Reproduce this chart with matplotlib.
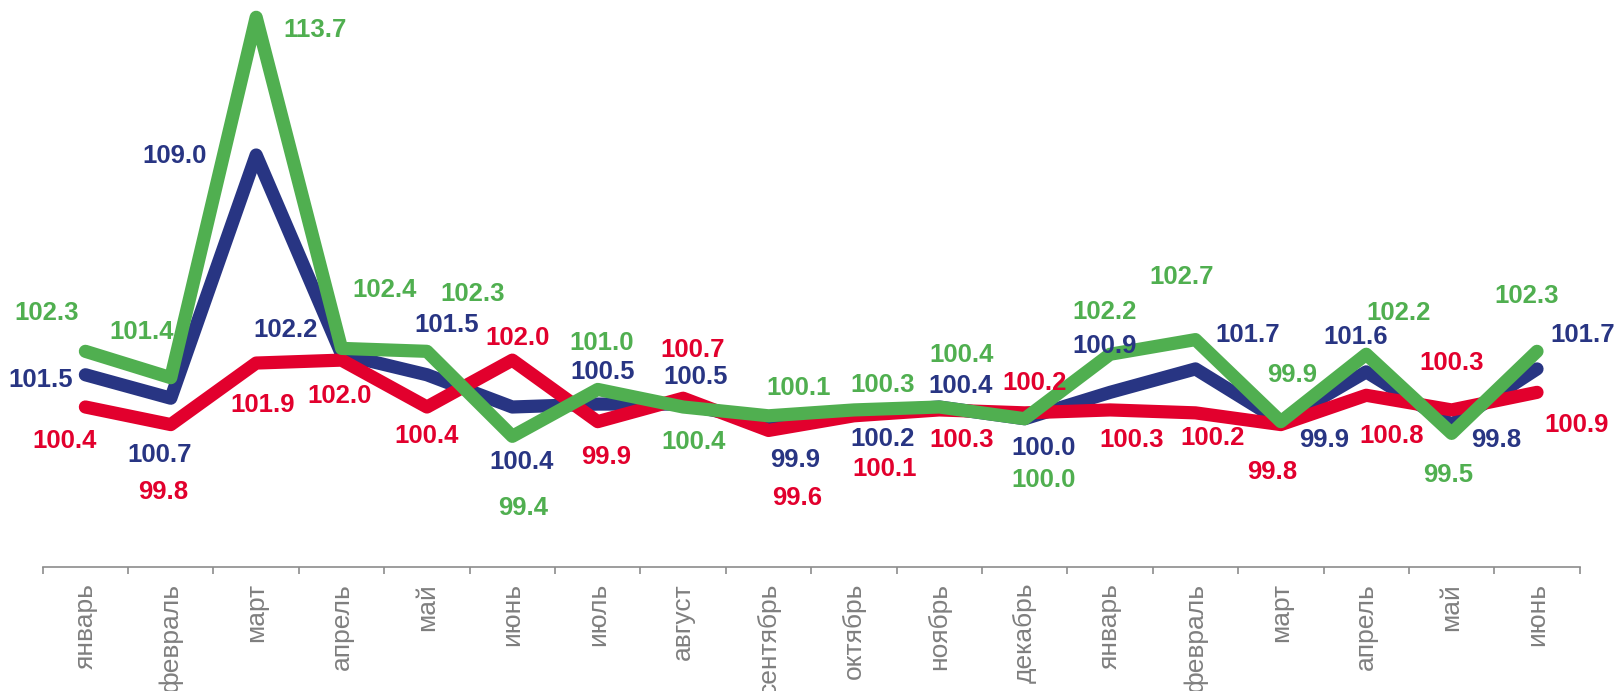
import matplotlib
matplotlib.use('Agg')
import matplotlib.pyplot as plt
import numpy as np

plt.rcParams['font.family'] = ['Liberation Sans', 'DejaVu Sans']

months = ['январь', 'февраль', 'март', 'апрель', 'май', 'июнь', 'июль', 'август',
          'сентябрь', 'октябрь', 'ноябрь', 'декабрь', 'январь', 'февраль', 'март',
          'апрель', 'май', 'июнь']

green_vals = [102.3, 101.4, 113.7, 102.4, 102.3, 99.4, 101.0, 100.4, 100.1, 100.3,
              100.4, 100.0, 102.2, 102.7, 99.9, 102.2, 99.5, 102.3]
blue_vals = [101.5, 100.7, 109.0, 102.2, 101.5, 100.4, 100.5, 100.5, 99.9, 100.2,
             100.4, 100.0, 100.9, 101.7, 99.9, 101.6, 99.8, 101.7]
red_vals = [100.4, 99.8, 101.9, 102.0, 100.4, 102.0, 99.9, 100.7, 99.6, 100.1,
            100.3, 100.2, 100.3, 100.2, 99.8, 100.8, 100.3, 100.9]

# label offsets (pixels) from each point
green_off = [(-39, 38), (-29, 46), (59, -13), (43, 58), (46, 57), (11, -72), (4, 46),
             (10, -35), (30, 28), (29, 25), (22, 52), (19, -61), (-5, 42), (-14, 63),
             (11, 47), (32, 41), (-3, -42), (-10, 55)]
blue_off = [(-45, -5), (-11, -57), (-82, -1), (-56, 24), (20, 50), (9, -55), (5, 32),
            (13, 27), (27, -38), (29, -26), (21, 21), (19, -29), (-5, 46), (52, 34),
            (43, -18), (-11, 35), (45, -15), (46, 34)]
red_off = [(-21, -34), (-8, -67), (6, -42), (-2, -36), (0, -29), (5, 22), (8, -35),
           (10, 48), (29, -68), (31, -53), (22, -30), (10, 30), (22, -30), (17, -25),
           (-9, -47), (25, -41), (0, 47), (40, -33)]

BLUE = '#283583'
RED = '#E2002D'
GREEN = '#50AF50'
GRAY = '#7F7F7F'

W, H = 1621, 691
fig = plt.figure(figsize=(W / 100, H / 100), dpi=100)
ax = fig.add_axes([42.7 / W, 1 - 566.7 / H, 1537 / W, 566.7 / H])

x = np.arange(len(months))
for vals, col, z in [(blue_vals, BLUE, 2), (red_vals, RED, 3), (green_vals, GREEN, 4)]:
    ax.plot(x, vals, color=col, lw=9.5, solid_capstyle='round',
            solid_joinstyle='round', zorder=z, clip_on=False)

for vals, offs, col in [(green_vals, green_off, GREEN), (blue_vals, blue_off, BLUE),
                        (red_vals, red_off, RED)]:
    for xi, v, (dx, dy) in zip(x, vals, offs):
        ax.annotate(f'{v:.1f}', (xi, v), xytext=(dx, dy), textcoords='offset pixels',
                    ha='center', va='center', fontsize=18.5, fontweight='bold',
                    color=col, annotation_clip=False, zorder=6)

ax.set_xlim(-0.5, len(months) - 0.5)
ax.set_ylim(94.95, 114.29)
for s in ['top', 'right', 'left']:
    ax.spines[s].set_visible(False)
ax.spines['bottom'].set_color('#8C8C8C')
ax.spines['bottom'].set_linewidth(1.2)
ax.set_yticks([])
ax.set_xticks(x)
ax.set_xticklabels(months, rotation=90, color=GRAY, fontsize=19, va='top')
ax.tick_params(axis='x', which='major', length=0, pad=11.6)
ax.set_xticks(np.arange(-0.5, len(months), 1), minor=True)
ax.tick_params(axis='x', which='minor', length=5, width=1.2, color='#8C8C8C')

fig.savefig('out.png', dpi=100)
